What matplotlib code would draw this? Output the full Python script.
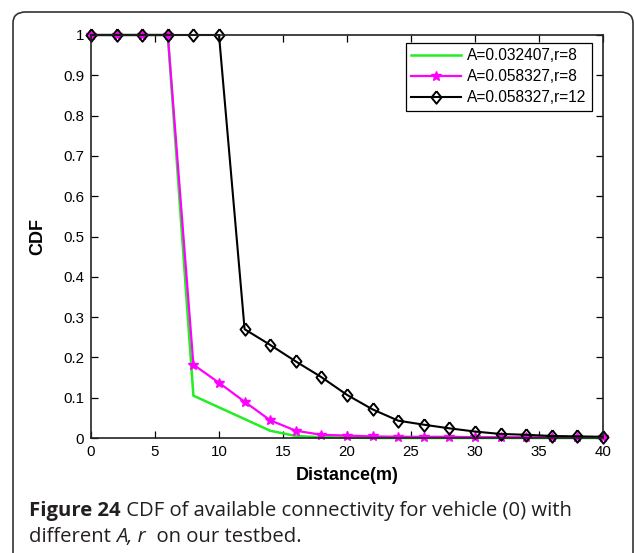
import matplotlib.pyplot as plt
from matplotlib.patches import FancyBboxPatch

# --- Data ---
distance = [0, 2, 4, 6, 8, 10, 12, 14, 16, 18, 20, 22, 24, 26, 28, 30, 32, 34, 36, 38, 40]
cdf_a032_r8 = [1, 1, 1, 1, 0.105, 0.076, 0.047, 0.018, 0.005, 0.002, 0.001, 0, 0, 0, 0, 0, 0, 0, 0, 0, 0]
cdf_a058_r8 = [1, 1, 1, 1, 0.182, 0.137, 0.090, 0.044, 0.018, 0.008, 0.006, 0.004, 0.003, 0.003,
               0.003, 0.002, 0.002, 0.002, 0.002, 0.002, 0.002]
cdf_a058_r12 = [1, 1, 1, 1, 1, 1, 0.270, 0.231, 0.190, 0.151, 0.107, 0.071, 0.043, 0.033, 0.024,
                0.016, 0.010, 0.008, 0.005, 0.004, 0.003]
labels = ["A=0.032407,r=8", "A=0.058327,r=8", "A=0.058327,r=12"]
x_ticks = [0, 5, 10, 15, 20, 25, 30, 35, 40]
y_ticks = [0, 0.1, 0.2, 0.3, 0.4, 0.5, 0.6, 0.7, 0.8, 0.9, 1]
y_ticklabels = ["0", "0.1", "0.2", "0.3", "0.4", "0.5", "0.6", "0.7", "0.8", "0.9", "1"]

W, H = 634, 553
fig = plt.figure(figsize=(W / 100, H / 100), dpi=100)

# rounded frame around the whole figure
frame = FancyBboxPatch((13 / W, -30 / H), (633 - 13) / W, (H - 12 + 30) / H,
                       boxstyle="round,pad=0,rounding_size=0.02",
                       transform=fig.transFigure, fill=False,
                       edgecolor="#333333", linewidth=1.2)
fig.patches.append(frame)

ax = fig.add_axes([91 / W, 1 - 438 / H, (603 - 91) / W, (438 - 35) / H])

diamond = [(0, 1), (0.8, 0), (0, -1), (-0.8, 0), (0, 1)]

ax.plot(distance, cdf_a032_r8, color="#22ee22", linewidth=1.8, label=labels[0], clip_on=False)
ax.plot(distance, cdf_a058_r8, color="#ff00ff", linewidth=1.6, marker="*", markersize=7,
        label=labels[1], clip_on=False)
ax.plot(distance, cdf_a058_r12, color="black", linewidth=1.5, marker=diamond, markersize=9,
        markerfacecolor="none", markeredgewidth=1.4, label=labels[2], clip_on=False)

ax.set_xlim(0, 40)
ax.set_ylim(0, 1)
ax.set_xticks(x_ticks)
ax.set_yticks(y_ticks)
ax.set_yticklabels(y_ticklabels)
for lab in ax.get_xticklabels() + ax.get_yticklabels():
    lab.set_fontfamily("Liberation Sans")
    lab.set_fontsize(10.8)
ax.tick_params(direction="in", top=True, right=True, length=5, width=0.9, pad=5)
for sp in ax.spines.values():
    sp.set_linewidth(1.2)
    sp.set_color("#222222")

ax.set_xlabel("Distance(m)", fontfamily="Liberation Sans", fontsize=13, fontweight="bold", labelpad=6)
ax.set_ylabel("CDF", fontfamily="Liberation Sans", fontsize=13, fontweight="bold", labelpad=12)

leg = ax.legend(loc="upper right", bbox_to_anchor=(592 / W, 1 - 43 / H),
                bbox_transform=fig.transFigure, fancybox=False, frameon=True,
                edgecolor="black", framealpha=1, handlelength=3.2, handletextpad=0.4,
                borderpad=0.35, labelspacing=0.38, borderaxespad=0,
                prop={"family": "Liberation Sans", "size": 11.2})
leg.get_frame().set_linewidth(0.9)

# --- caption with mixed styles ---
renderer = fig.canvas.get_renderer()
cap_color = "#231f20"
cap_size = 14.6


def draw_runs(x_px, y_px, runs):
    x = x_px
    for s, weight, style in runs:
        t = fig.text(x / W, 1 - y_px / H, s, fontsize=cap_size, color=cap_color,
                     fontweight=weight, fontstyle=style, va="center", ha="left",
                     family="Open Sans")
        x += t.get_window_extent(renderer).width


draw_runs(29, 511, [("Figure 24", "bold", "normal"),
                    (" CDF of available connectivity for vehicle (0) with", "normal", "normal")])
draw_runs(29, 537, [("different ", "normal", "normal"), ("A, r", "normal", "italic"),
                    ("  on our testbed.", "normal", "normal")])

fig.savefig("out.png", dpi=100)
